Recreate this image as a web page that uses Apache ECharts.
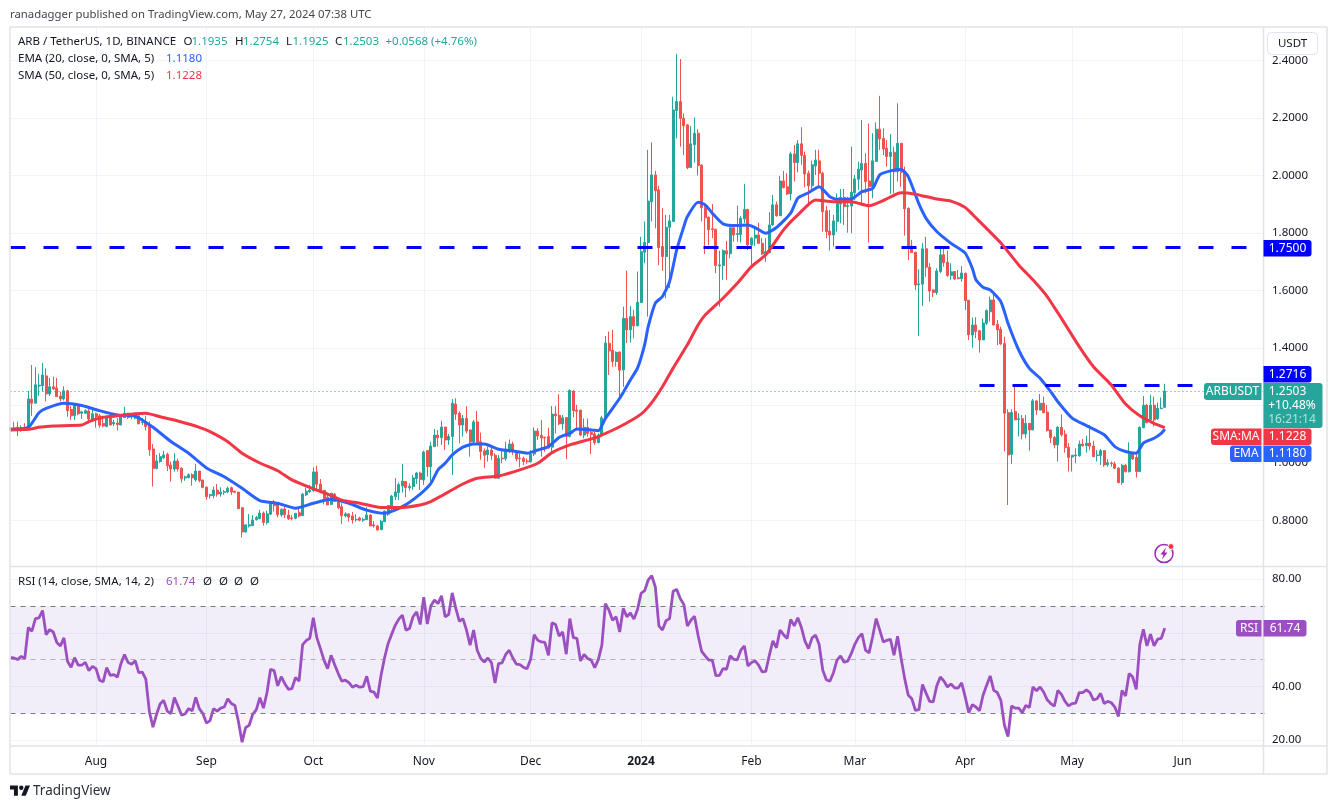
<!DOCTYPE html>
<html>
<head>
<meta charset="utf-8">
<title>ARB / TetherUS</title>
<script src="https://cdn.jsdelivr.net/npm/echarts@6/dist/echarts.min.js"></script>
<style>
html,body{margin:0;padding:0;background:#fff}
#chart{width:1337px;height:809px}
</style>
</head>
<body>
<div id="chart"></div>
<script>
// daily candles, [open, high, low, close], first day 2023-07-08
const ohlc = [
[1.122,1.124,1.110,1.113],[1.122,1.143,1.113,1.115],[1.124,1.143,1.094,1.113],[1.115,1.131,1.109,1.122],[1.124,1.138,1.113,1.115],
[1.121,1.251,1.117,1.223],[1.222,1.341,1.164,1.208],[1.208,1.333,1.208,1.272],[1.268,1.310,1.234,1.271],[1.269,1.348,1.248,1.306],
[1.303,1.329,1.214,1.240],[1.240,1.296,1.233,1.265],[1.265,1.300,1.254,1.258],[1.261,1.296,1.229,1.231],[1.233,1.248,1.214,1.223],
[1.223,1.267,1.217,1.251],[1.251,1.254,1.161,1.182],[1.186,1.198,1.150,1.164],[1.165,1.208,1.150,1.202],[1.201,1.208,1.167,1.171],
[1.173,1.181,1.153,1.178],[1.173,1.187,1.171,1.182],[1.181,1.190,1.138,1.153],[1.153,1.192,1.153,1.171],[1.171,1.175,1.123,1.160],
[1.164,1.171,1.123,1.131],[1.138,1.156,1.124,1.129],[1.127,1.167,1.124,1.158],[1.158,1.167,1.132,1.132],[1.136,1.150,1.129,1.141],
[1.139,1.156,1.113,1.134],[1.132,1.168,1.132,1.167],[1.158,1.196,1.156,1.173],[1.173,1.175,1.153,1.158],[1.165,1.171,1.152,1.160],
[1.156,1.175,1.152,1.167],[1.164,1.167,1.136,1.136],[1.141,1.156,1.132,1.143],[1.144,1.164,1.113,1.127],[1.129,1.144,1.025,1.046],
[1.049,1.066,0.918,0.981],[0.981,1.028,0.978,1.007],[1.005,1.034,1.001,1.022],[1.018,1.042,1.013,1.028],[1.030,1.036,0.972,0.990],
[0.993,1.005,0.935,0.979],[0.979,1.034,0.970,1.007],[1.007,1.015,0.970,0.979],[0.982,0.985,0.932,0.945],[0.948,0.956,0.938,0.952],
[0.949,0.964,0.947,0.959],[0.959,0.964,0.921,0.948],[0.941,0.997,0.935,0.972],[0.972,0.972,0.933,0.939],[0.941,0.941,0.912,0.915],
[0.916,0.918,0.872,0.883],[0.886,0.893,0.876,0.890],[0.886,0.918,0.877,0.906],[0.906,0.927,0.883,0.892],[0.892,0.915,0.883,0.899],
[0.898,0.906,0.889,0.900],[0.899,0.918,0.895,0.912],[0.914,0.918,0.889,0.899],[0.902,0.903,0.896,0.898],[0.899,0.899,0.840,0.841],
[0.844,0.846,0.741,0.760],[0.760,0.785,0.758,0.785],[0.781,0.823,0.776,0.785],[0.782,0.819,0.781,0.802],[0.803,0.816,0.800,0.810],
[0.807,0.837,0.804,0.826],[0.826,0.831,0.782,0.793],[0.793,0.834,0.786,0.823],[0.822,0.866,0.819,0.864],[0.862,0.871,0.831,0.852],
[0.860,0.862,0.811,0.820],[0.819,0.842,0.813,0.839],[0.840,0.853,0.808,0.820],[0.819,0.837,0.802,0.806],[0.809,0.819,0.800,0.807],
[0.808,0.825,0.804,0.825],[0.827,0.845,0.811,0.816],[0.817,0.895,0.816,0.892],[0.889,0.915,0.885,0.902],[0.900,0.924,0.895,0.906],
[0.904,0.985,0.900,0.969],[0.969,0.990,0.906,0.926],[0.927,0.944,0.895,0.904],[0.905,0.906,0.856,0.877],[0.881,0.895,0.854,0.854],
[0.856,0.895,0.854,0.895],[0.892,0.895,0.866,0.866],[0.867,0.880,0.839,0.844],[0.848,0.860,0.788,0.817],[0.816,0.829,0.811,0.823],
[0.823,0.825,0.796,0.812],[0.816,0.830,0.789,0.802],[0.802,0.822,0.796,0.804],[0.809,0.813,0.797,0.801],[0.801,0.810,0.795,0.804],
[0.803,0.846,0.802,0.819],[0.819,0.822,0.780,0.781],[0.785,0.798,0.775,0.781],[0.781,0.785,0.765,0.767],[0.768,0.802,0.767,0.797],
[0.796,0.834,0.794,0.833],[0.822,0.854,0.816,0.852],[0.851,0.889,0.831,0.885],[0.883,0.948,0.871,0.899],[0.897,0.932,0.871,0.925],
[0.920,0.997,0.897,0.937],[0.936,0.937,0.881,0.914],[0.914,0.929,0.904,0.919],[0.918,0.958,0.906,0.948],[0.946,0.969,0.927,0.965],
[0.965,0.970,0.906,0.943],[0.941,1.043,0.924,1.038],[1.043,1.045,0.953,0.987],[0.987,1.074,0.935,1.059],[1.057,1.118,1.055,1.097],
[1.097,1.115,1.057,1.088],[1.088,1.147,1.063,1.125],[1.125,1.126,1.045,1.080],[1.080,1.101,1.063,1.092],[1.092,1.222,0.958,1.208],
[1.205,1.225,1.150,1.170],[1.173,1.179,1.068,1.132],[1.132,1.167,1.092,1.155],[1.155,1.198,1.103,1.111],[1.115,1.115,1.022,1.073],
[1.073,1.150,1.069,1.143],[1.143,1.181,1.071,1.071],[1.074,1.106,1.011,1.040],[1.042,1.051,0.982,1.027],[1.029,1.057,1.005,1.045],
[1.045,1.063,1.011,1.026],[1.027,1.034,0.947,0.947],[0.947,1.028,0.944,1.016],[1.017,1.048,0.999,1.015],[1.015,1.074,1.008,1.048],
[1.048,1.082,1.034,1.066],[1.066,1.074,1.028,1.043],[1.040,1.045,1.005,1.015],[1.017,1.036,0.985,1.015],[1.016,1.022,0.993,1.005],
[1.007,1.016,0.997,1.004],[1.004,1.045,1.001,1.031],[1.031,1.124,1.024,1.111],[1.111,1.121,1.080,1.094],[1.096,1.150,1.022,1.087],
[1.089,1.092,1.039,1.087],[1.092,1.123,1.051,1.052],[1.055,1.198,1.036,1.170],[1.170,1.198,1.103,1.164],[1.166,1.239,1.132,1.136],
[1.136,1.167,1.115,1.157],[1.158,1.159,1.013,1.092],[1.092,1.256,1.089,1.252],[1.250,1.254,1.159,1.182],[1.184,1.202,1.115,1.180],
[1.184,1.184,1.094,1.097],[1.097,1.155,1.086,1.124],[1.124,1.155,1.092,1.103],[1.106,1.121,1.031,1.099],[1.101,1.109,1.063,1.071],
[1.071,1.103,1.068,1.097],[1.097,1.164,1.092,1.157],[1.157,1.442,1.150,1.417],[1.416,1.457,1.306,1.390],[1.393,1.463,1.335,1.353],
[1.353,1.388,1.335,1.385],[1.386,1.388,1.225,1.323],[1.324,1.544,1.265,1.503],[1.503,1.669,1.417,1.463],[1.463,1.546,1.419,1.509],
[1.509,1.532,1.434,1.477],[1.477,1.666,1.509,1.559],[1.558,1.787,1.556,1.735],[1.733,1.840,1.695,1.767],[1.767,2.089,1.509,1.911],
[1.909,2.115,1.840,2.002],[2.002,2.016,1.816,1.947],[1.950,1.964,1.689,1.749],[1.753,1.886,1.669,1.718],[1.718,1.863,1.573,1.820],
[1.820,1.863,1.608,1.842],[1.840,2.274,1.840,2.228],[2.226,2.423,2.129,2.257],[2.257,2.405,2.100,2.199],[2.199,2.216,2.071,2.173],
[2.176,2.179,2.022,2.027],[2.028,2.172,2.028,2.110],[2.107,2.202,2.045,2.147],[2.147,2.161,2.000,2.035],[2.036,2.039,1.840,1.888],
[1.888,1.901,1.727,1.853],[1.855,1.857,1.758,1.811],[1.815,1.901,1.782,1.812],[1.813,1.814,1.660,1.687],[1.685,1.738,1.544,1.689],
[1.687,1.743,1.637,1.739],[1.738,1.772,1.637,1.727],[1.728,1.822,1.712,1.818],[1.818,1.822,1.770,1.793],[1.795,1.895,1.770,1.798],
[1.795,1.859,1.767,1.851],[1.849,1.971,1.834,1.882],[1.882,1.884,1.741,1.758],[1.758,1.785,1.689,1.782],[1.782,1.819,1.755,1.793],
[1.793,1.836,1.762,1.764],[1.764,1.782,1.724,1.727],[1.729,1.782,1.700,1.735],[1.732,1.872,1.729,1.828],[1.828,1.932,1.825,1.898],
[1.898,1.909,1.857,1.860],[1.860,1.998,1.859,1.981],[1.981,2.016,1.955,1.958],[1.961,2.008,1.932,1.936],[1.936,2.083,1.913,2.075],
[2.075,2.106,1.979,2.045],[2.045,2.123,2.011,2.110],[2.110,2.168,2.037,2.070],[2.070,2.083,1.959,2.005],[2.008,2.017,1.901,1.964],
[1.964,2.052,1.950,2.037],[2.033,2.089,2.002,2.054],[2.051,2.089,1.961,2.008],[2.008,2.013,1.805,1.874],[1.877,1.894,1.782,1.805],
[1.807,1.880,1.739,1.793],[1.793,1.863,1.753,1.842],[1.840,1.938,1.805,1.903],[1.901,1.953,1.834,1.924],[1.924,1.953,1.828,1.892],
[1.892,1.926,1.801,1.896],[1.894,2.100,1.799,1.942],[1.940,2.002,1.915,1.988],[1.987,2.048,1.950,2.022],[2.019,2.193,1.895,2.042],
[2.042,2.077,1.938,1.979],[1.981,2.181,1.767,1.961],[1.961,2.147,1.921,2.051],[2.049,2.185,2.048,2.161],[2.161,2.277,2.089,2.127],
[2.129,2.164,2.071,2.092],[2.095,2.123,2.031,2.066],[2.066,2.144,1.936,2.081],[2.081,2.100,1.938,2.013],[2.013,2.251,1.979,2.112],
[2.112,2.112,1.961,2.011],[2.011,2.031,1.791,1.884],[1.886,1.889,1.706,1.755],[1.755,1.776,1.732,1.732],[1.733,1.735,1.602,1.619],
[1.620,1.674,1.442,1.623],[1.622,1.764,1.546,1.745],[1.745,1.787,1.648,1.681],[1.681,1.695,1.561,1.598],[1.602,1.604,1.577,1.593],
[1.593,1.677,1.585,1.668],[1.666,1.747,1.660,1.724],[1.724,1.755,1.683,1.697],[1.698,1.739,1.648,1.652],[1.652,1.695,1.637,1.665],
[1.666,1.666,1.637,1.640],[1.644,1.671,1.639,1.641],[1.641,1.685,1.631,1.661],[1.660,1.662,1.532,1.565],[1.566,1.567,1.428,1.446],
[1.445,1.506,1.401,1.480],[1.480,1.507,1.434,1.457],[1.460,1.463,1.384,1.428],[1.428,1.503,1.428,1.487],[1.486,1.534,1.480,1.530],
[1.526,1.579,1.492,1.567],[1.567,1.588,1.478,1.480],[1.483,1.497,1.410,1.463],[1.465,1.474,1.410,1.414],[1.416,1.439,1.040,1.173],
[1.175,1.187,0.854,1.028],[1.030,1.187,0.997,1.176],[1.179,1.268,1.150,1.150],[1.151,1.173,1.092,1.154],[1.154,1.167,1.082,1.101],
[1.101,1.167,1.086,1.138],[1.138,1.138,1.043,1.115],[1.115,1.223,1.115,1.216],[1.216,1.217,1.167,1.184],[1.184,1.240,1.184,1.208],
[1.208,1.231,1.173,1.175],[1.177,1.202,1.109,1.113],[1.115,1.115,1.069,1.088],[1.089,1.094,1.051,1.063],[1.063,1.129,1.005,1.124],
[1.124,1.169,1.092,1.098],[1.100,1.115,1.036,1.054],[1.055,1.069,0.970,1.019],[1.021,1.028,0.970,1.027],[1.025,1.051,0.999,1.028],
[1.025,1.078,1.022,1.066],[1.066,1.083,1.057,1.060],[1.060,1.095,1.036,1.069],[1.069,1.132,1.045,1.059],[1.059,1.077,1.022,1.022],
[1.026,1.045,1.005,1.028],[1.026,1.049,0.993,1.043],[1.043,1.045,0.987,0.993],[0.994,1.013,0.987,1.001],[1.000,1.005,0.987,0.998],
[0.997,1.005,0.978,0.982],[0.982,0.985,0.929,0.932],[0.932,0.997,0.924,0.992],[0.992,0.997,0.967,0.970],[0.970,1.072,0.967,1.031],
[1.031,1.036,1.011,1.014],[1.019,1.040,0.949,0.970],[0.970,1.127,0.970,1.124],[1.123,1.233,1.121,1.201],[1.201,1.205,1.138,1.140],
[1.150,1.237,1.138,1.201],[1.201,1.231,1.127,1.150],[1.154,1.210,1.150,1.190],[1.189,1.228,1.187,1.191],[1.1935,1.2754,1.1925,1.2503]
];

// moving averages, read at these day numbers
const emaDays = [0,5,8,10,15,20,25,30,35,40,45,50,55,60,65,70,75,80,85,90,95,100,105,110,115,118,120,122,124,127,130,133,137,142,145,148,151,154,157,159,163,165,167,171,174,176,178,179,181,183,185,187,189,190,193,195,197,200,204,207,209,212,215,219,221,224,227,230,232,236,239,242,244,247,250,252,255,257,260,264,268,270,271,273,275,278,280,283,286,289,292,294,298,302,307,310,313,316,318,321,323,324];
const emaValues = [1.117,1.124,1.175,1.190,1.208,1.200,1.182,1.167,1.163,1.124,1.075,1.034,0.983,0.952,0.912,0.869,0.860,0.843,0.860,0.874,0.860,0.836,0.825,0.848,0.892,0.929,0.976,0.999,1.028,1.055,1.066,1.066,1.048,1.040,1.034,1.045,1.057,1.089,1.103,1.118,1.115,1.112,1.155,1.225,1.289,1.330,1.411,1.474,1.556,1.579,1.631,1.741,1.822,1.857,1.907,1.898,1.869,1.832,1.826,1.828,1.819,1.799,1.819,1.869,1.921,1.940,1.961,1.926,1.917,1.918,1.944,1.955,2.002,2.016,2.021,1.996,1.901,1.851,1.805,1.764,1.730,1.677,1.637,1.611,1.602,1.561,1.486,1.393,1.329,1.295,1.248,1.213,1.156,1.130,1.098,1.057,1.040,1.034,1.069,1.086,1.103,1.118];
const smaDays = [0,5,8,12,20,22,26,30,35,38,42,47,53,56,61,65,70,75,79,84,89,93,98,104,109,115,118,121,127,131,137,143,148,152,157,163,165,171,177,180,183,186,190,193,195,200,204,208,212,217,221,226,231,236,241,245,250,254,260,264,268,270,278,283,287,291,295,300,304,309,313,317,321,324];
const smaValues = [1.115,1.117,1.124,1.129,1.132,1.144,1.159,1.164,1.171,1.173,1.161,1.146,1.124,1.109,1.074,1.034,1.000,0.973,0.941,0.915,0.892,0.871,0.860,0.845,0.845,0.854,0.866,0.886,0.927,0.947,0.955,0.976,0.999,1.036,1.063,1.084,1.092,1.126,1.170,1.210,1.265,1.330,1.411,1.480,1.515,1.573,1.625,1.683,1.724,1.811,1.863,1.915,1.909,1.909,1.895,1.913,1.940,1.935,1.918,1.911,1.889,1.865,1.765,1.689,1.637,1.579,1.503,1.405,1.335,1.271,1.205,1.164,1.138,1.1228];

// RSI, one value a day
const rsiValues = [
50.7,50.6,50,51.2,50.4,62,60.6,65.3,65.6,68.3,59.3,61.2,60.3,56.4,55.1,58.1,49.4,47.1,50.7,47.9,
47.9,49,45.9,47.5,46.6,42.3,41.7,47,44.1,44.4,43.5,48.5,51.9,48.9,48.3,49.6,45.1,45.3,42.6,30.4,
24.8,29.6,33.4,34.8,30.8,29.8,35.8,32.7,29.3,29.7,31.7,30.9,35.9,31.7,29.9,26.3,27.2,31.7,30.8,31.9,
32.3,35.4,33.6,32.9,26.7,19.2,24.6,25.5,29.6,31.3,35.8,31.9,37.7,46.4,45.9,40.2,43.6,41,38.9,39.2,
43.3,42,55.6,57.1,57.9,65.6,58.1,54.1,49.8,46.6,51.6,48.1,44.8,42,42.3,41.4,39.7,40.4,39.7,39.9,
43.8,38.2,37.9,35.7,44.1,50.7,56,59.5,62.8,65.1,66.6,61,61.6,66,67.8,63.1,73.3,63.3,70.1,72.2,
70.9,73.8,66,66.8,74.9,69.1,64.3,65.3,61,55.4,61,53.5,50.4,49.1,50.6,48.9,41.3,48.5,48.8,51.9,
53.5,50.6,48.3,48.1,47.1,46.6,50.1,59.3,57.2,56.6,56.4,51.6,63.7,63.1,58.8,60.3,52,65.3,58.2,57.9,
49.5,51.9,50.4,49.8,47,50,55.4,70.9,68.4,64.7,66,60.3,69.1,66,67.4,65.1,68.7,74.7,75.7,79.7,
81.3,77.2,62.6,61,64.5,65.3,75.5,76.2,72.8,70.6,62.5,64.7,66.2,59.1,53.1,51.4,49.8,49.8,44,44.1,
46.6,46.4,51.4,50.1,49.9,53.5,55.1,47.6,48.9,49.5,47.9,45.4,45.6,51.6,57,54.4,61,59.3,57.9,65,
62.6,65.6,62,56.9,54.1,58.1,59.1,55.6,46,42.5,41.9,45.1,49.8,51.4,49,49.4,52.2,55.7,58.2,59.7,
53.5,52.5,58.5,65.3,61,56.6,57.2,57.6,51.6,58.7,50.4,42.9,36.7,35.4,31.1,31.3,40.7,37.5,34.4,34.2,
40.2,43.5,42,39.8,40.9,39.5,39.4,41.3,36,30.2,33.2,32.3,30.9,36.7,40.4,43.9,38.5,37.7,34.8,25.5,
21.3,32.7,31.9,31.9,30.2,32.9,32.1,39.8,38.4,39.8,37.9,35,33.6,32.6,38.5,37,34.4,32.7,33.6,33.8,
37.7,37.7,38.7,37.7,34.9,35.4,37.4,33.6,34.4,33.9,32.3,28.8,38.5,36.4,44.8,43.5,38.9,55.7,61.3,55.1,
59.5,55.1,57.6,57.9,61.74
];

const priceTicks = [0.8,1.0,1.2,1.4,1.6,1.8,2.0,2.2,2.4];
const rsiTicks = [20,40,60,80];
const monthDates = ['2023-08-01','2023-09-01','2023-10-01','2023-11-01','2023-12-01','2024-01-01','2024-02-01','2024-03-01','2024-04-01','2024-05-01','2024-06-01'];
const monthLabels = ['Aug','Sep','Oct','Nov','Dec','2024','Feb','Mar','Apr','May','Jun'];
const lastClose = 1.2503;

const UP = '#26a69a', DOWN = '#ef5350', EMA = '#2962ff', SMA = '#f23645', RSI = '#9c4fc0', LEVEL = '#0000ff';
const BORDER = '#e0e3eb', GRID = '#f0f3fa', INK = '#131722';
const FONT = '"Noto Sans", sans-serif';

// one category a day, from 2023-07-08 to 2024-06-24
const days = [];
for (let i = 0; i <= 352; i++) {
    days.push(new Date(Date.UTC(2023, 6, 8 + i)).toISOString().slice(0, 10));
}
const isMonth = (i, v) => monthDates.includes(v);
const zip = (a, b) => a.map((d, i) => [d, b[i]]);

function xAxis(gridIndex, withLabels) {
    return {
        type: 'category', gridIndex: gridIndex, data: days, boundaryGap: false,
        axisLine: {show: false},
        axisTick: {show: false, interval: isMonth},
        splitLine: {show: true, interval: isMonth, lineStyle: {color: GRID, width: 1}},
        axisLabel: {
            show: withLabels, interval: isMonth, margin: 10, fontFamily: FONT, fontSize: 12, color: INK,
            hideOverlap: false,
            formatter: v => {
                const label = monthLabels[monthDates.indexOf(v)];
                return label === '2024' ? '{y|2024}' : label;
            },
            rich: {y: {fontFamily: FONT, fontSize: 12, fontWeight: 'bold', color: INK}}
        }
    };
}

function yAxis(gridIndex, min, max, ticks, digits) {
    return {
        type: 'value', gridIndex: gridIndex, position: 'right', min: min, max: max, scale: true,
        axisLine: {show: false},
        axisTick: {show: false, customValues: ticks},
        splitLine: {show: true, lineStyle: {color: GRID, width: 1}},
        axisLabel: {
            customValues: ticks, margin: 7.5, fontFamily: FONT, fontSize: 11.5, color: INK,
            padding: [2, 0, 0, 0],
            formatter: v => v.toFixed(digits)
        }
    };
}

// texts, tags and frame around the panes
function label(x, y, text, color, extra) {
    return {
        type: 'text', z: 100, silent: true,
        style: Object.assign({x: x, y: y, text: text, fill: color || INK, font: '11.5px ' + FONT, verticalAlign: 'middle'}, extra || {})
    };
}
function tag(x, y, w, h, color, r) {
    return {type: 'rect', z: 99, silent: true, shape: {x: x, y: y, width: w, height: h, r: r}, style: {fill: color}};
}
function rule(x1, y1, x2, y2) {
    return {type: 'line', z: 50, silent: true, shape: {x1: x1, y1: y1, x2: x2, y2: y2}, style: {stroke: BORDER, lineWidth: 1.5}};
}
const white = {font: '12px ' + FONT, align: 'center'};

// TradingView mark, outline units scaled into the footer
const logo = (pts) => pts.map(p => [10 + p[0] * 0.5634, 783.3 + p[1] * 0.5634]);

const graphics = [
    label(10, 14.5, 'ranadagger published on TradingView.com, May 27, 2024 07:38 UTC', '#434651', {font: '11.35px ' + FONT}),
    rule(10, 27, 1327, 27), rule(10, 27, 10, 774), rule(1327, 27, 1327, 774), rule(10, 774, 1327, 774),
    rule(10, 566.5, 1327, 566.5), rule(10, 746, 1327, 746), rule(1263.5, 27, 1263.5, 774),

    label(18, 41.5, 'ARB / TetherUS, 1D, BINANCE'), label(183.5, 41.5, 'O'), label(191.5, 41.5, '1.1935', UP),
    label(235, 41.5, 'H'), label(243, 41.5, '1.2754', UP), label(286, 41.5, 'L'), label(292.5, 41.5, '1.1925', UP),
    label(335, 41.5, 'C'), label(343, 41.5, '1.2503', UP), label(385.5, 41.5, '+0.0568 (+4.76%)', UP),
    label(18, 59, 'EMA (20, close, 0, SMA, 5)'), label(166, 59, '1.1180', EMA),
    label(18, 76, 'SMA (50, close, 0, SMA, 5)'), label(166, 76, '1.1228', SMA),
    label(18, 582, 'RSI (14, close, SMA, 14, 2)'), label(166, 582, '61.74', RSI),
    label(203, 582, 'Ø'), label(219, 582, 'Ø'), label(234, 582, 'Ø'), label(250, 582, 'Ø'),

    {type: 'rect', z: 99, silent: true, shape: {x: 1267.5, y: 32.5, width: 50, height: 22, r: 4}, style: {fill: '#fff', stroke: BORDER}},
    label(1292.5, 44, 'USDT', INK, {align: 'center'}),

    tag(1263.5, 240, 48, 16.5, LEVEL, [0, 3, 3, 0]), label(1287.5, 248.5, '1.7500', '#fff', white),
    tag(1263.5, 366, 48, 16.5, LEVEL, [0, 3, 3, 0]), label(1287.5, 374.5, '1.2716', '#fff', white),
    tag(1204, 383, 57.5, 17, UP, [3, 0, 0, 3]), label(1232.5, 392, 'ARBUSDT', '#fff', white),
    tag(1263.5, 383, 59, 45, UP, [0, 3, 3, 0]), label(1287.5, 392, '1.2503', '#fff', white),
    label(1292, 406, '+10.48%', '#fff', white), label(1292, 420, '16:21:14', 'rgba(255,255,255,0.65)', white),
    tag(1211, 428.5, 50.5, 16.5, SMA, [3, 0, 0, 3]), label(1236, 437, 'SMA:MA', '#fff', white),
    tag(1263.5, 428.5, 48, 16.5, SMA, [0, 3, 3, 0]), label(1287.5, 437, '1.1228', '#fff', white),
    tag(1230, 445.5, 31.5, 16.5, EMA, [3, 0, 0, 3]), label(1246, 454, 'EMA', '#fff', white),
    tag(1263.5, 445.5, 48, 16.5, EMA, [0, 3, 3, 0]), label(1287.5, 454, '1.1180', '#fff', white),
    tag(1236, 620, 25.5, 16.5, RSI, [3, 0, 0, 3]), label(1249, 628.5, 'RSI', '#fff', white),
    tag(1263.5, 620, 43, 16.5, RSI, [0, 3, 3, 0]), label(1285, 628.5, '61.74', '#fff', white),

    {type: 'circle', z: 99, silent: true, shape: {cx: 1164, cy: 553.5, r: 9}, style: {fill: '#fff', stroke: '#9c27b0', lineWidth: 1.5}},
    {type: 'polygon', z: 100, silent: true, shape: {points: [[1166, 547.5], [1160.5, 554.5], [1163.5, 554.5], [1162, 559.5], [1167.5, 552.5], [1164.5, 552.5]]}, style: {fill: '#9c27b0'}},
    {type: 'circle', z: 101, silent: true, shape: {cx: 1171, cy: 546.5, r: 3}, style: {fill: SMA, stroke: '#fff', lineWidth: 1}},

    {type: 'polygon', z: 100, silent: true, shape: {points: logo([[14, 22], [7, 22], [7, 11], [0, 11], [0, 4], [14, 4]])}, style: {fill: INK}},
    {type: 'polygon', z: 100, silent: true, shape: {points: logo([[28, 22], [20, 22], [27.5, 4], [35.5, 4]])}, style: {fill: INK}},
    {type: 'circle', z: 100, silent: true, shape: {cx: 10 + 20 * 0.5634, cy: 783.3 + 8 * 0.5634, r: 2.2}, style: {fill: INK}},
    label(33, 791, 'TradingView', '#2a2e39', {font: '13.5px ' + FONT})
];

const chart = echarts.init(document.getElementById('chart'), null, {renderer: 'canvas'});
chart.setOption({
    animation: false,
    backgroundColor: '#fff',
    grid: [
        {left: 10.5, top: 27, width: 1254, height: 539},
        {left: 10.5, top: 567, width: 1254, height: 179}
    ],
    xAxis: [xAxis(0, false), xAxis(1, true)],
    yAxis: [
        yAxis(0, 0.6417, 2.5165, priceTicks, 4),
        yAxis(1, 17.76, 84.55, rsiTicks, 2)
    ],
    graphic: graphics,
    series: [
        {
            type: 'candlestick', xAxisIndex: 0, yAxisIndex: 0, barWidth: 2.5, z: 3,
            data: ohlc.map(d => [d[0], d[3], d[2], d[1]]),
            itemStyle: {color: UP, color0: DOWN, borderColor: UP, borderColor0: DOWN, borderWidth: 1}
        },
        {
            type: 'line', name: 'EMA', xAxisIndex: 0, yAxisIndex: 0, data: zip(emaDays, emaValues), z: 4,
            showSymbol: false, smooth: 0.2, lineStyle: {color: EMA, width: 3}
        },
        {
            type: 'line', name: 'SMA', xAxisIndex: 0, yAxisIndex: 0, data: zip(smaDays, smaValues), z: 5,
            showSymbol: false, smooth: 0.2, lineStyle: {color: SMA, width: 3},
            markLine: {
                silent: true, symbol: 'none', label: {show: false}, animation: false,
                data: [
                    [{coord: [0, 1.75], lineStyle: {color: LEVEL, width: 3, type: [15, 18]}}, {coord: [349, 1.75]}],
                    [{coord: [272, 1.2716], lineStyle: {color: LEVEL, width: 3, type: [15, 18]}}, {coord: [332, 1.2716]}],
                    [{coord: [0, lastClose], lineStyle: {color: UP, width: 1, type: [1, 3]}}, {coord: [352, lastClose]}]
                ]
            }
        },
        // overbought and oversold fills
        {
            type: 'line', xAxisIndex: 1, yAxisIndex: 1, data: rsiValues.map(v => Math.max(v, 70)), z: 2,
            showSymbol: false, lineStyle: {opacity: 0}, areaStyle: {origin: 70, color: 'rgba(76,175,80,0.16)'}
        },
        {
            type: 'line', xAxisIndex: 1, yAxisIndex: 1, data: rsiValues.map(v => Math.min(v, 30)), z: 2,
            showSymbol: false, lineStyle: {opacity: 0}, areaStyle: {origin: 30, color: 'rgba(242,54,69,0.10)'}
        },
        {
            type: 'line', name: 'RSI', xAxisIndex: 1, yAxisIndex: 1, data: rsiValues, z: 4,
            showSymbol: false, lineStyle: {color: RSI, width: 2.8},
            markArea: {
                silent: true, itemStyle: {color: 'rgba(126,87,194,0.1)'},
                data: [[{coord: [0, 70]}, {coord: [352, 30]}]]
            },
            markLine: {
                silent: true, symbol: 'none', label: {show: false}, animation: false,
                data: [
                    {yAxis: 70, lineStyle: {color: '#787b86', width: 1, type: [5, 5]}},
                    {yAxis: 50, lineStyle: {color: 'rgba(120,123,134,0.55)', width: 1, type: [5, 5]}},
                    {yAxis: 30, lineStyle: {color: '#787b86', width: 1, type: [5, 5]}}
                ]
            }
        }
    ]
});
</script>
</body>
</html>
